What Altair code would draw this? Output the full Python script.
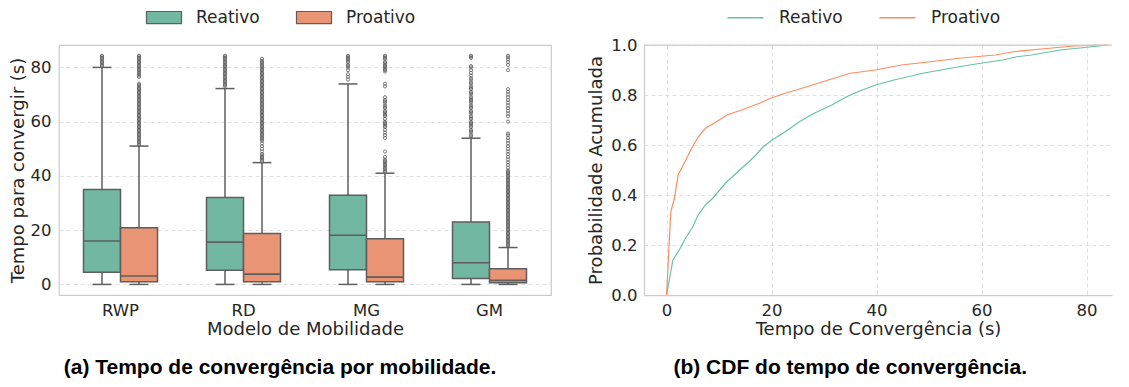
import altair as alt
import pandas as pd

FONT = "DejaVu Sans"
TXT = "#262626"
EDGE = "#5e5e5e"
FRAME = "#cccccc"
GRID = "#dddddd"

models = ["RWP", "RD", "MG", "GM"]
types = ["Reativo", "Proativo"]
box_fill = ["#72b7a1", "#e99575"]
line_color = ["#66c2a5", "#fc8d62"]

# box statistics (order: model x type)
box_model = ["RWP", "RWP", "RD", "RD", "MG", "MG", "GM", "GM"]
box_type = ["Reativo", "Proativo"] * 4
whisk_lo = [0, 0, 0, 0, 0, 0, 0, 0]
q1 = [4.5, 1.0, 5.2, 1.0, 5.4, 1.0, 2.2, 0.6]
med = [16.0, 3.1, 15.6, 3.8, 18.1, 2.7, 8.0, 1.5]
q3 = [35.0, 20.9, 32.0, 18.8, 32.9, 16.8, 23.0, 5.8]
whisk_hi = [80.0, 51.0, 72.2, 44.9, 73.9, 41.0, 53.9, 13.6]

# outliers
out_rwp_rea = [80.5, 81, 81.5, 82, 82.5, 83, 83.5, 84, 84.3]
out_rwp_pro = [51.5, 52, 52.5, 53, 53.5, 54, 54.5, 55, 55.5, 56, 56.5, 57, 57.5, 58, 58.5,
               59, 59.5, 60, 60.5, 61, 61.5, 62, 62.5, 63, 63.5, 64, 64.5, 65, 65.5, 66,
               66.5, 67, 67.5, 68, 68.5, 69, 69.5, 70, 70.5, 71, 71.5, 72, 72.5, 73, 73.5,
               74, 76.5, 77, 77.5, 78, 78.5, 79, 79.5, 80, 80.5, 81, 81.5, 82, 82.5, 83,
               83.5, 84, 84.3]
out_rd_rea = [73, 73.5, 74, 74.5, 75, 75.5, 76, 76.5, 77, 77.5, 78, 78.5, 79, 79.5, 80,
              80.5, 81, 81.5, 82, 82.5, 83, 83.5, 84, 84.3]
out_rd_pro = [45.5, 46, 46.5, 47, 47.5, 48, 49, 50, 51, 52, 53, 53.5, 54, 54.5, 55, 55.5,
              56, 56.5, 57, 57.5, 58, 58.5, 59, 59.5, 60, 60.5, 61, 61.5, 62, 62.5, 63,
              63.5, 64, 64.5, 65, 65.5, 66, 66.5, 67, 67.5, 68, 68.5, 69, 69.5, 70, 70.5,
              71, 71.5, 72, 72.5, 73, 73.5, 74, 74.5, 75, 75.5, 76, 76.5, 77, 77.5, 78,
              78.5, 79, 79.5, 80, 80.5, 81, 81.5, 82, 82.5, 83.2]
out_mg_rea = [75.5, 76.5, 77.5, 79, 80, 80.5, 81, 82, 82.5, 83, 83.5, 84, 84.3]
out_mg_pro = [41.5, 42, 42.5, 43, 43.5, 44, 44.5, 45, 45.5, 46, 47, 49, 54, 55, 56, 57, 58,
              58.5, 59, 59.5, 60, 61, 62, 62.5, 63, 63.5, 64, 65, 65.5, 66, 67, 67.5, 68,
              69, 73, 74, 78.5, 79, 79.5, 80, 80.5, 81, 81.5, 82, 83, 83.5, 84, 84.3]
out_gm_rea = [54.5, 55, 56, 56.5, 57, 58, 58.5, 59, 59.5, 60, 61, 61.5, 62, 63, 63.5, 64,
              65, 65.5, 66, 67, 67.5, 68, 68.5, 69, 70, 70.5, 71, 72, 72.5, 73, 74, 74.5,
              75.5, 76, 77, 78, 79, 80, 80.5, 83.5, 84, 84.3]
out_gm_pro = [14, 14.5, 15, 15.5, 16, 16.5, 17, 17.5, 18, 18.5, 19, 19.5, 20, 20.5, 21,
              21.5, 22, 22.5, 23, 23.5, 24, 24.5, 25, 25.5, 26, 26.5, 27, 27.5, 28, 28.5,
              29, 29.5, 30, 30.5, 31, 31.5, 32, 32.5, 33, 33.5, 34, 34.5, 35, 35.5, 36,
              36.5, 37, 37.5, 38, 38.5, 39, 39.5, 40, 40.5, 41, 41.5, 42, 43, 44, 45, 46,
              47, 48, 49, 50, 51, 52, 53, 54, 55, 55.6, 60, 62, 63, 64, 65, 66, 67, 68,
              69, 70, 71, 72, 79, 80.9, 82, 83, 83.7, 84.3]

outliers = {
    ("RWP", "Reativo"): out_rwp_rea, ("RWP", "Proativo"): out_rwp_pro,
    ("RD", "Reativo"): out_rd_rea, ("RD", "Proativo"): out_rd_pro,
    ("MG", "Reativo"): out_mg_rea, ("MG", "Proativo"): out_mg_pro,
    ("GM", "Reativo"): out_gm_rea, ("GM", "Proativo"): out_gm_pro,
}

# CDF curves
cdf_rea_t = [0, 1.2, 2.6, 3.6, 5.0, 6.0, 7.4, 8.8, 10.1, 11.5, 12.9, 14.3, 15.7, 17.0,
             18.4, 20.1, 22.6, 25.3, 28.1, 31.5, 34.3, 36.4, 39.8, 43.3, 48.8, 55.7, 59.8,
             64.0, 66.7, 69.5, 75.0, 79.2, 84.0]
cdf_rea_p = [0, 0.14, 0.187, 0.227, 0.273, 0.32, 0.36, 0.387, 0.42, 0.453, 0.48, 0.507,
             0.533, 0.56, 0.593, 0.62, 0.653, 0.693, 0.727, 0.76, 0.793, 0.813, 0.84, 0.86,
             0.887, 0.913, 0.927, 0.94, 0.953, 0.96, 0.98, 0.989, 1.0]
cdf_pro_t = [0, 0.8, 1.5, 2.2, 3.2, 4.3, 5.3, 6.3, 7.4, 9.5, 11.5, 14.3, 17.7, 19.8, 22.6,
             26.7, 30.8, 35.0, 39.8, 44.7, 50.2, 55.7, 62.6, 66.0, 72.9, 77.7, 84.0]
cdf_pro_p = [0, 0.333, 0.387, 0.48, 0.52, 0.567, 0.607, 0.64, 0.667, 0.693, 0.72, 0.74,
             0.767, 0.787, 0.807, 0.833, 0.86, 0.887, 0.9, 0.92, 0.933, 0.947, 0.96, 0.973,
             0.987, 0.996, 1.0]

box_df = pd.DataFrame({"model": box_model, "type": box_type, "lo": whisk_lo, "q1": q1,
                       "med": med, "q3": q3, "hi": whisk_hi})
out_rows = []
for (m, t), vals in outliers.items():
    for v in vals:
        out_rows.append({"model": m, "type": t, "v": v})
out_df = pd.DataFrame(out_rows)

cdf_df = pd.concat([
    pd.DataFrame({"t": cdf_rea_t, "p": cdf_rea_p, "type": "Reativo"}),
    pd.DataFrame({"t": cdf_pro_t, "p": cdf_pro_p, "type": "Proativo"}),
])

axis_common = dict(labelFont=FONT, titleFont=FONT, labelColor=TXT, titleColor=TXT,
                   labelFontSize=16.5, titleFontSize=18, titleFontWeight="normal",
                   ticks=False, tickSize=0, labelFlush=False)

# ---------- left panel: box plots ----------
x_left = alt.X("model:N", sort=models, title="Modelo de Mobilidade",
               scale=alt.Scale(paddingInner=0, paddingOuter=0),
               axis=alt.Axis(labelAngle=0, labelPadding=7, titlePadding=2, domain=False,
                             grid=False, **axis_common))
xo = alt.XOffset("type:N", sort=types, scale=alt.Scale(paddingInner=0, paddingOuter=0.662))
y_left_scale = alt.Scale(domain=[-3.9, 88.26], nice=False, zero=False)
y_left_axis = alt.Axis(values=[0, 20, 40, 60, 80], grid=True, gridDash=[4, 3],
                       gridColor=GRID, gridWidth=0.9, domain=False, labelPadding=8,
                       titlePadding=3, **axis_common)


def YL(field):
    return alt.Y(field, scale=y_left_scale, axis=y_left_axis, title="Tempo para convergir (s)")


base = alt.Chart(box_df)
whisk = base.mark_rule(color=EDGE, strokeWidth=1.5).encode(
    x=x_left, xOffset=xo, y=YL("lo:Q"), y2="hi:Q")
box = base.mark_bar(stroke=EDGE, strokeWidth=1.5).encode(
    x=x_left, xOffset=xo, y=YL("q1:Q"), y2="q3:Q",
    color=alt.Color("type:N", sort=types,
                    scale=alt.Scale(domain=types, range=box_fill),
                    legend=alt.Legend(title=None, orient="none", legendX=96.5, legendY=-36,
                                      direction="horizontal",
                                      symbolType="M-2.5,-0.86H2.5V0.86H-2.5Z",
                                      symbolSize=196,
                                      symbolStrokeColor=EDGE, symbolStrokeWidth=1.2,
                                      symbolOpacity=1, labelFontSize=17, labelFont=FONT,
                                      labelColor=TXT, labelOffset=23.5, columnPadding=33,
                                      padding=0)))
median = base.mark_tick(color=EDGE, size=37, thickness=1.6, opacity=1).encode(
    x=x_left, xOffset=xo, y=YL("med:Q"))
cap_lo = base.mark_tick(color=EDGE, size=19, thickness=1.5, opacity=1).encode(
    x=x_left, xOffset=xo, y=YL("lo:Q"))
cap_hi = base.mark_tick(color=EDGE, size=19, thickness=1.5, opacity=1).encode(
    x=x_left, xOffset=xo, y=YL("hi:Q"))
fliers = alt.Chart(out_df).mark_point(shape="circle", size=10, filled=False,
                                       strokeWidth=0.8, color=EDGE, opacity=1).encode(
    x=x_left, xOffset=xo, y=YL("v:Q"))

left = alt.layer(whisk, box, median, cap_lo, cap_hi, fliers).properties(
    width=492, height=250,
    view=alt.ViewBackground(stroke=FRAME, strokeWidth=1.25),
    title=alt.TitleParams("(a) Tempo de convergência por mobilidade.", orient="bottom",
                          anchor="middle", frame="bounds", font="Liberation Sans",
                          fontWeight="bold", fontSize=21, color="black", offset=18))

# ---------- right panel: CDF ----------
x_right = alt.X("t:Q", title="Tempo de Convergência (s)",
                scale=alt.Scale(domain=[-4.3, 84.84], nice=False, zero=False),
                axis=alt.Axis(values=[0, 20, 40, 60, 80], grid=True, gridDash=[4, 3],
                              gridColor=GRID, gridWidth=0.9, domain=True, domainColor=FRAME,
                              domainWidth=1.25, labelPadding=7, titlePadding=2,
                              **axis_common))
y_right = alt.Y("p:Q", title="Probabilidade Acumulada",
                scale=alt.Scale(domain=[0, 1], nice=False, zero=False),
                axis=alt.Axis(values=[0, 0.2, 0.4, 0.6, 0.8, 1.0], format=".1f", grid=True,
                              gridDash=[4, 3], gridColor=GRID, gridWidth=0.9, domain=True,
                              domainColor=FRAME, domainWidth=1.25, labelPadding=7,
                              titlePadding=5, **axis_common))

lines = alt.Chart(cdf_df).mark_line(strokeWidth=1.2).encode(
    x=x_right, y=y_right,
    color=alt.Color("type:N", sort=types, scale=alt.Scale(domain=types, range=line_color),
                    legend=alt.Legend(title=None, orient="none", legendX=93, legendY=-36,
                                      direction="horizontal", symbolType="M-2.5,0H2.5",
                                      symbolSize=207, symbolStrokeWidth=1.3,
                                      labelFontSize=17, labelFont=FONT, labelColor=TXT,
                                      labelOffset=25, columnPadding=33, padding=0)))
top_border = alt.Chart(pd.DataFrame({"p": [1.0]})).mark_rule(
    color=FRAME, strokeWidth=1.25).encode(y=alt.Y("p:Q"))

right = alt.layer(lines, top_border).properties(
    width=468, height=250,
    view=alt.ViewBackground(stroke="transparent"),
    title=alt.TitleParams("(b) CDF do tempo de convergência.", orient="bottom",
                          anchor="middle", frame="bounds", font="Liberation Sans",
                          fontWeight="bold", fontSize=21, color="black", offset=18))

chart = alt.hconcat(left, right, spacing=35).resolve_scale(
    color="independent").resolve_legend(color="independent").properties(
    padding={"left": 0, "top": 0, "right": 0, "bottom": 0}, background="white")

chart.save("out.html", embed_options={"renderer": "svg", "actions": False})
